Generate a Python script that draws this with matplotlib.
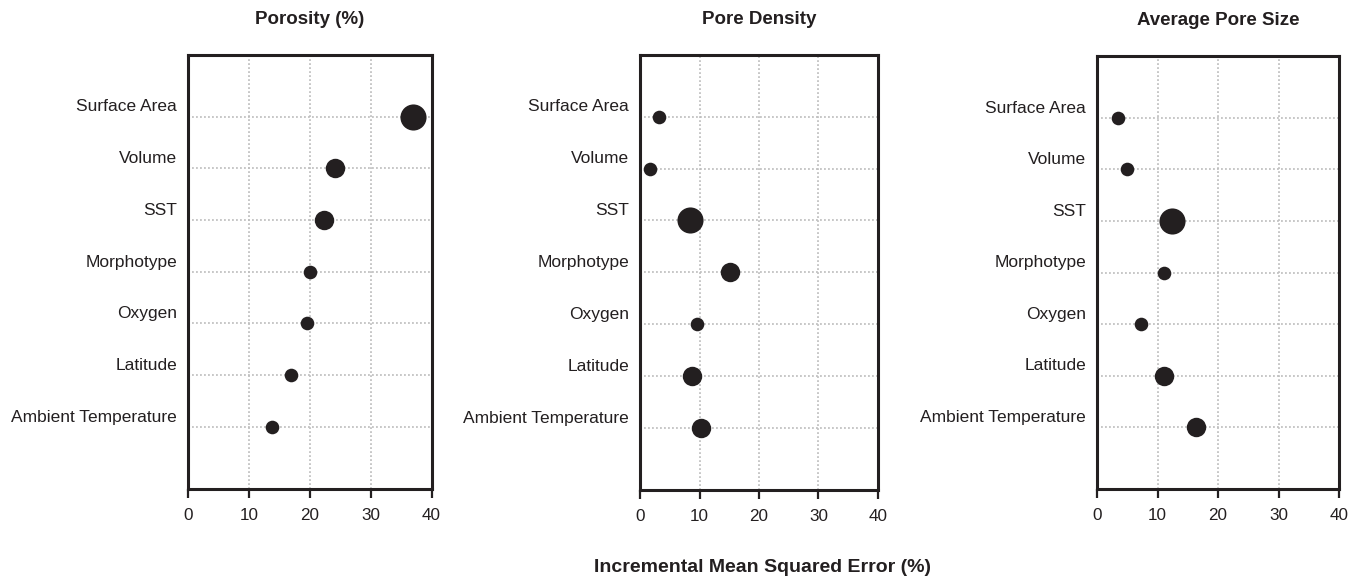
import numpy as np
import matplotlib
matplotlib.use("Agg")
import matplotlib.pyplot as plt

plt.rcParams["font.family"] = ["Liberation Sans", "DejaVu Sans"]

INK = "#231f20"
GRID = "#bdbdbd"

## data
predictors = ["Surface Area", "Volume", "SST", "Morphotype", "Oxygen",
              "Latitude", "Ambient Temperature"]
titles = ["Porosity (%)", "Pore Density", "Average Pore Size"]

porosity_mse = [37.0, 24.2, 22.3, 20.0, 19.6, 16.9, 13.8]
density_mse = [3.2, 1.6, 8.4, 15.1, 9.5, 8.8, 10.2]
poresize_mse = [3.5, 4.9, 12.4, 11.1, 7.3, 11.0, 16.4]

# dot size class (1 small, 2 medium, 3 large)
porosity_cls = [3, 2, 2, 1, 1, 1, 1]
density_cls = [1, 1, 3, 2, 1, 2, 2]
poresize_cls = [1, 1, 3, 1, 1, 2, 2]

xticks = [0, 10, 20, 30, 40]

values = [porosity_mse, density_mse, poresize_mse]
classes = [porosity_cls, density_cls, poresize_cls]

W, H = 1363, 586
fig = plt.figure(figsize=(W / 100, H / 100), dpi=100)

# axes boxes in pixels: left, right, top, bottom
boxes = [(188, 431.5, 54.5, 489), (640, 878, 54.5, 490), (1097, 1339, 56, 489)]
msize = {1: 9.8, 2: 14.0, 3: 18.8}

axes = []
for k in range(3):
    l, r, t, b = boxes[k]
    ax = fig.add_axes([l / W, 1 - b / H, (r - l) / W, (b - t) / H])
    axes.append(ax)
    ypos = np.arange(len(predictors))

    for xv in xticks[1:-1]:
        ax.axvline(xv, color=GRID, lw=1.2, dashes=(1.1, 1.3), zorder=1)
    for y in ypos:
        ax.axhline(y, color=GRID, lw=1.2, dashes=(1.1, 1.3), zorder=1)

    for y, v, c in zip(ypos, values[k], classes[k]):
        ax.plot(v, y, "o", color=INK, ms=msize[c], mec="none", zorder=3)

    for y, name in zip(ypos, predictors):
        ax.annotate(name, xy=(0, y), xycoords=("axes fraction", "data"),
                    xytext=(-8, 7), textcoords="offset points",
                    ha="right", va="center", fontsize=12.5, color=INK,
                    annotation_clip=False)

    ax.set_xlim(0, 40)
    ax.set_ylim(len(predictors) - 1 + 1.2, -1.2)
    ax.set_xticks(xticks)
    ax.set_yticks([])
    ax.tick_params(axis="x", direction="out", length=6.5, width=1.6,
                   color=INK, labelcolor=INK, labelsize=12.3, pad=7)
    for sp in ax.spines.values():
        sp.set_linewidth(2.2)
        sp.set_color(INK)
        sp.set_zorder(4)
    ax.set_title(titles[k], fontsize=13.5, fontweight="bold", color=INK, pad=22)

fig.text(((boxes[1][0] + boxes[1][1]) / 2 + 4) / W, 1 - 567 / H,
         "Incremental Mean Squared Error (%)", ha="center", va="center",
         fontsize=14, fontweight="bold", color=INK)

fig.savefig("out.png", dpi=100, facecolor="white")
